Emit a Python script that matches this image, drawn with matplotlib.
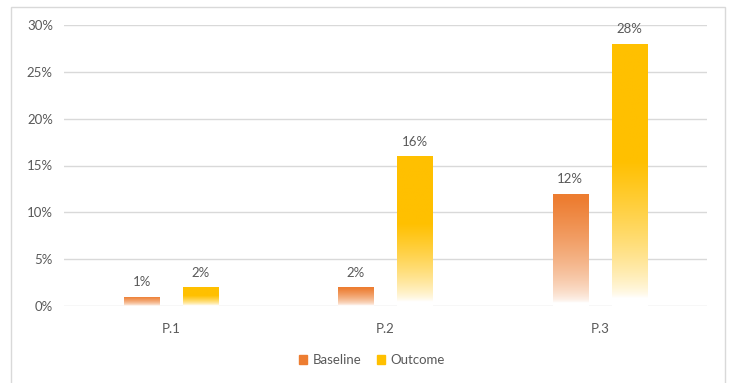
import numpy as np
import matplotlib.pyplot as plt
from matplotlib.patches import Rectangle
from matplotlib.colors import to_rgb

# データ
categories = ["P.1", "P.2", "P.3"]
baseline = [1, 2, 12]
outcome = [2, 16, 28]
series_names = ["Baseline", "Outcome"]
series_colors = ["#ED7D31", "#FFC000"]
yticks = [0, 5, 10, 15, 20, 25, 30]

plt.rcParams["font.family"] = ["Lato", "DejaVu Sans"]
TEXT = "#595959"


# 上が濃く、下が白くなるグラデーションの棒
def gradient_bar(ax, x, h, w, color, solid_from, power):
    rect = Rectangle((x - w / 2, 0), w, h, facecolor="none", edgecolor="none")
    ax.add_patch(rect)
    t = np.linspace(0, 1, 256)  # 0 = 下, 1 = 上
    wgt = np.clip((t - 0.03) / (solid_from - 0.03), 0, 1) ** power
    c = np.array(to_rgb(color))
    img = (1 - wgt)[:, None] * np.ones(3) + wgt[:, None] * c
    img = img[:, None, :]
    im = ax.imshow(img, extent=(x - w / 2, x + w / 2, 0, h), origin="lower",
                   aspect="auto", interpolation="bilinear", zorder=2)
    im.set_clip_path(rect)


fig = plt.figure(figsize=(7.29, 3.83), dpi=100)
ax = fig.add_axes([64 / 729, 1 - 306 / 383, (707 - 64) / 729, (306 - 25) / 383])

width = 0.165
offset = 0.138
x = np.arange(len(categories))
grads = [(0.95, 0.6), (0.55, 0.7)]
for vals, off, color, g in zip([baseline, outcome], [-offset, offset], series_colors, grads):
    for xi, v in zip(x, vals):
        gradient_bar(ax, xi + off, v, width, color, *g)
        ax.text(xi + off, v + 0.9, f"{v}%", ha="center", va="bottom",
                fontsize=9.5, color=TEXT)

ax.set_xlim(-0.5, 2.5)
ax.set_ylim(0, 30)
ax.set_yticks(yticks)
ax.set_yticklabels([f"{v}%" for v in yticks])
ax.set_xticks(x)
ax.set_xticklabels(categories)
ax.tick_params(length=0, labelsize=9.5, labelcolor=TEXT)
ax.tick_params(axis="y", pad=8)
ax.tick_params(axis="x", pad=12)
for s in ax.spines.values():
    s.set_visible(False)
ax.grid(axis="y", color="#D9D9D9", linewidth=1)
ax.set_axisbelow(True)

# 凡例
handles = [Rectangle((0, 0), 1, 1, color=c) for c in series_colors]
fig.legend(handles, series_names, loc="center", bbox_to_anchor=(372 / 729, 1 - 360 / 383),
           ncol=2, frameon=False, fontsize=9.5, labelcolor=TEXT, handlelength=0.6,
           handleheight=0.6, handletextpad=0.4, columnspacing=1.2)

# 外枠
fig.patches.append(Rectangle((11 / 729, -0.05), (725 - 11) / 729, 1.05 - 7 / 383,
                             transform=fig.transFigure, fill=False,
                             edgecolor="#D9D9D9", linewidth=1))

fig.savefig("out.png", dpi=100)
